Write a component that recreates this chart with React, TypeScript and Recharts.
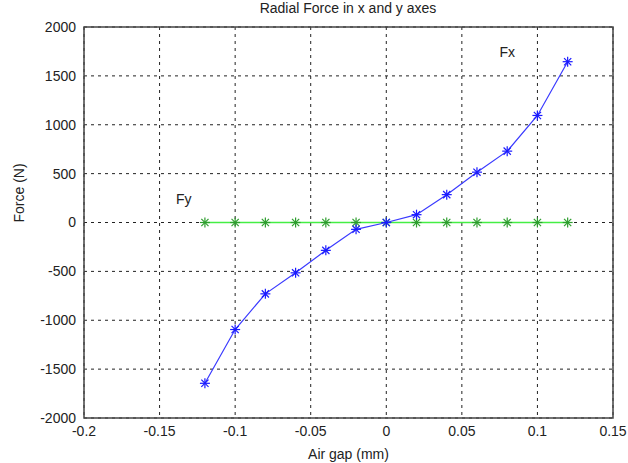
import {
  CartesianGrid,
  Line,
  LineChart,
  ReferenceArea,
  ReferenceDot,
  XAxis,
  YAxis,
} from 'recharts';

const airGap = [-0.12, -0.1, -0.08, -0.06, -0.04, -0.02, 0, 0.02, 0.04, 0.06, 0.08, 0.1, 0.12];
const forceX = [-1645, -1095, -730, -515, -285, -70, 0, 80, 285, 515, 730, 1095, 1645];
const forceY = [0, 0, 0, 0, 0, 0, 0, 0, 0, 0, 0, 0, 0];

const xTicks = [-0.2, -0.15, -0.1, -0.05, 0, 0.05, 0.1, 0.15];
const yTicks = [-2000, -1500, -1000, -500, 0, 500, 1000, 1500, 2000];

const chartData = airGap.map((gap, i) => ({ gap, fx: forceX[i], fy: forceY[i] }));

const font = 'Liberation Sans, Arial, sans-serif';

type StarProps = { cx?: number; cy?: number; color: string };

function Star({ cx, cy, color }: StarProps) {
  if (cx == null || cy == null) return null;
  const r = 5;
  const d = 3.6;
  return (
    <g stroke={color} strokeWidth={1.2}>
      <line x1={cx - r} y1={cy} x2={cx + r} y2={cy} />
      <line x1={cx} y1={cy - r} x2={cx} y2={cy + r} />
      <line x1={cx - d} y1={cy - d} x2={cx + d} y2={cy + d} />
      <line x1={cx - d} y1={cy + d} x2={cx + d} y2={cy - d} />
    </g>
  );
}

export default function App() {
  return (
    <div style={{ position: 'absolute', left: 0, top: 0, width: 628, height: 463, background: '#fff', fontFamily: font }}>
      <LineChart
        width={628}
        height={463}
        data={chartData}
        margin={{ top: 27, right: 15, bottom: 20, left: 24 }}
      >
        <text x={348} y={13} textAnchor="middle" fontSize={14} fill="#222" fontFamily={font}>
          Radial Force in x and y axes
        </text>
        <CartesianGrid stroke="#222" strokeDasharray="3 4" />
        <XAxis
          dataKey="gap"
          type="number"
          domain={[-0.2, 0.15]}
          ticks={xTicks}
          tickLine={false}
          axisLine={false}
          height={25}
          tick={{ fill: '#222', fontSize: 14, fontFamily: font }}
          tickFormatter={(v: number) => String(v)}
          label={{ value: 'Air gap (mm)', position: 'insideBottom', offset: -16, fill: '#222', fontSize: 14, fontFamily: font }}
        />
        <YAxis
          type="number"
          domain={[-2000, 2000]}
          ticks={yTicks}
          tickLine={false}
          axisLine={false}
          width={60}
          tick={{ fill: '#222', fontSize: 14, fontFamily: font }}
          label={{ value: 'Force (N)', angle: -90, position: 'insideLeft', offset: -5, fill: '#222', fontSize: 14, fontFamily: font }}
        />
        <ReferenceArea x1={-0.2} x2={0.15} y1={-2000} y2={2000} fill="none" stroke="#444" strokeWidth={1.5} />
        <Line
          dataKey="fy"
          stroke="#44ee44"
          strokeWidth={1.5}
          isAnimationActive={false}
          dot={(p: any) => <Star key={`fy${p.index}`} cx={p.cx} cy={p.cy} color="#2e9e2e" />}
        />
        <Line
          dataKey="fx"
          stroke="#3a3aff"
          strokeWidth={1.2}
          isAnimationActive={false}
          dot={(p: any) => <Star key={`fx${p.index}`} cx={p.cx} cy={p.cy} color="#1a1aff" />}
        />
        <ReferenceDot
          x={0.08}
          y={1745}
          r={0}
          label={{ value: 'Fx', position: 'center', fill: '#222', fontSize: 14, fontFamily: font }}
        />
        <ReferenceDot
          x={-0.134}
          y={240}
          r={0}
          label={{ value: 'Fy', position: 'center', fill: '#222', fontSize: 14, fontFamily: font }}
        />
      </LineChart>
    </div>
  );
}
